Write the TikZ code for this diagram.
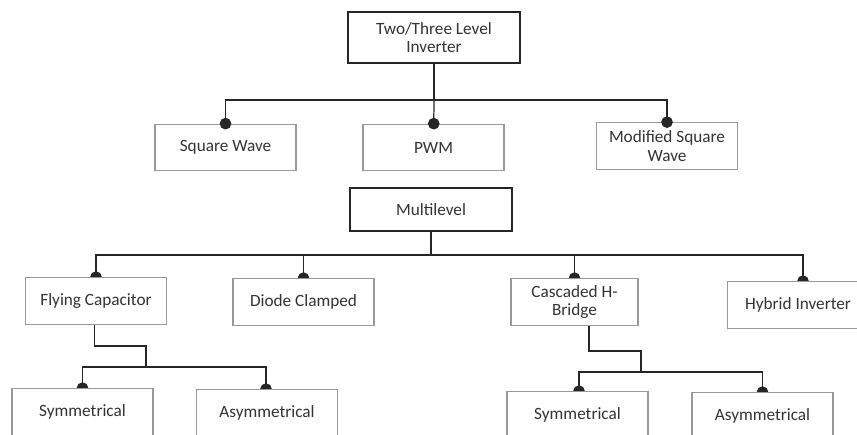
\documentclass[tikz,border=0pt]{standalone}
\usepackage{fontspec}
\setmainfont{Carlito}
\usetikzlibrary{arrows.meta,backgrounds,positioning}

\tikzset{
  blk/.style={draw=black!75, line width=0.7pt, fill=white, align=center,
    text=black!80, font=\fontsize{9.8}{10.5}\selectfont, inner sep=1pt},
  mainblk/.style={blk, minimum width=3.44cm, line width=0.9pt, draw=black!85},
  subblk/.style={blk, draw=black!40, minimum width=2.82cm, minimum height=0.93cm},
  link/.style={draw=black!85, line width=0.7pt},
  dot/.style={link, -{Circle[length=6.6pt]}, shorten >=-3.3pt},
}

\begin{document}
\begin{tikzpicture}[x=0.02cm,y=-0.02cm]
%
\useasboundingbox (0,0) rectangle (857,435);
\clip (0,0) rectangle (857,435);
%
\node[mainblk, minimum height=1.02cm] (twolevel) at (434,37.5) {Two/Three Level\\Inverter};
\node[subblk] (square) at (225.5,147.5) {Square Wave};
\node[subblk] (pwm) at (433.5,147.5) {PWM};
\node[subblk] (modsq) at (667,146) {Modified Square\\Wave};
%
\node[mainblk, minimum width=3.24cm, minimum height=0.86cm] (multi) at (431,209.5) {Multilevel};
\node[subblk] (flycap) at (96,301) {Flying Capacitor};
\node[subblk] (diode) at (303.5,302) {Diode Clamped};
\node[subblk, minimum width=2.54cm] (cascade) at (574.5,302) {Cascaded H-\\Bridge};
\node[subblk] (hybrid) at (798,305) {Hybrid Inverter};
%
\node[subblk] (sym1) at (82.5,412) {Symmetrical};
\node[subblk] (asym1) at (267,413) {Asymmetrical};
\node[subblk] (sym2) at (577.5,415) {Symmetrical};
\node[subblk] (asym2) at (762.5,416) {Asymmetrical};
%
\coordinate (bus1) at (434,100);
\coordinate (bus2) at (431,255);
\coordinate (kink1) at (146,346);
\coordinate (bus3) at (146,367);
\coordinate (kink2) at (641,351);
\coordinate (bus4) at (641,372);
%
\draw[link] (twolevel) -- (bus1);
\draw[dot] (bus1) -| (square);
\draw[dot] (bus1) -- (pwm);
\draw[dot] (bus1) -| (modsq);
%
\begin{scope}[on background layer]
\draw[link] (multi) -- (bus2);
\draw[dot] (bus2) -| (flycap);
\draw[dot] (bus2) -| (diode);
\draw[dot] (bus2) -| (cascade);
\draw[dot] (bus2) -| ([xshift=0.1cm]hybrid.north);
%
\draw[link] ([xshift=-0.03cm]flycap.south) |- (kink1) -- (bus3);
\draw[dot] (bus3) -| (sym1);
\draw[dot] (bus3) -| ([xshift=-0.02cm]asym1.north);
%
\draw[link] ([xshift=0.29cm]cascade.south) |- (kink2) -- (bus4);
\draw[dot] (bus4) -| ([xshift=0.03cm]sym2.north);
\draw[dot] (bus4) -| (asym2);
\end{scope}
%
\end{tikzpicture}
\end{document}
